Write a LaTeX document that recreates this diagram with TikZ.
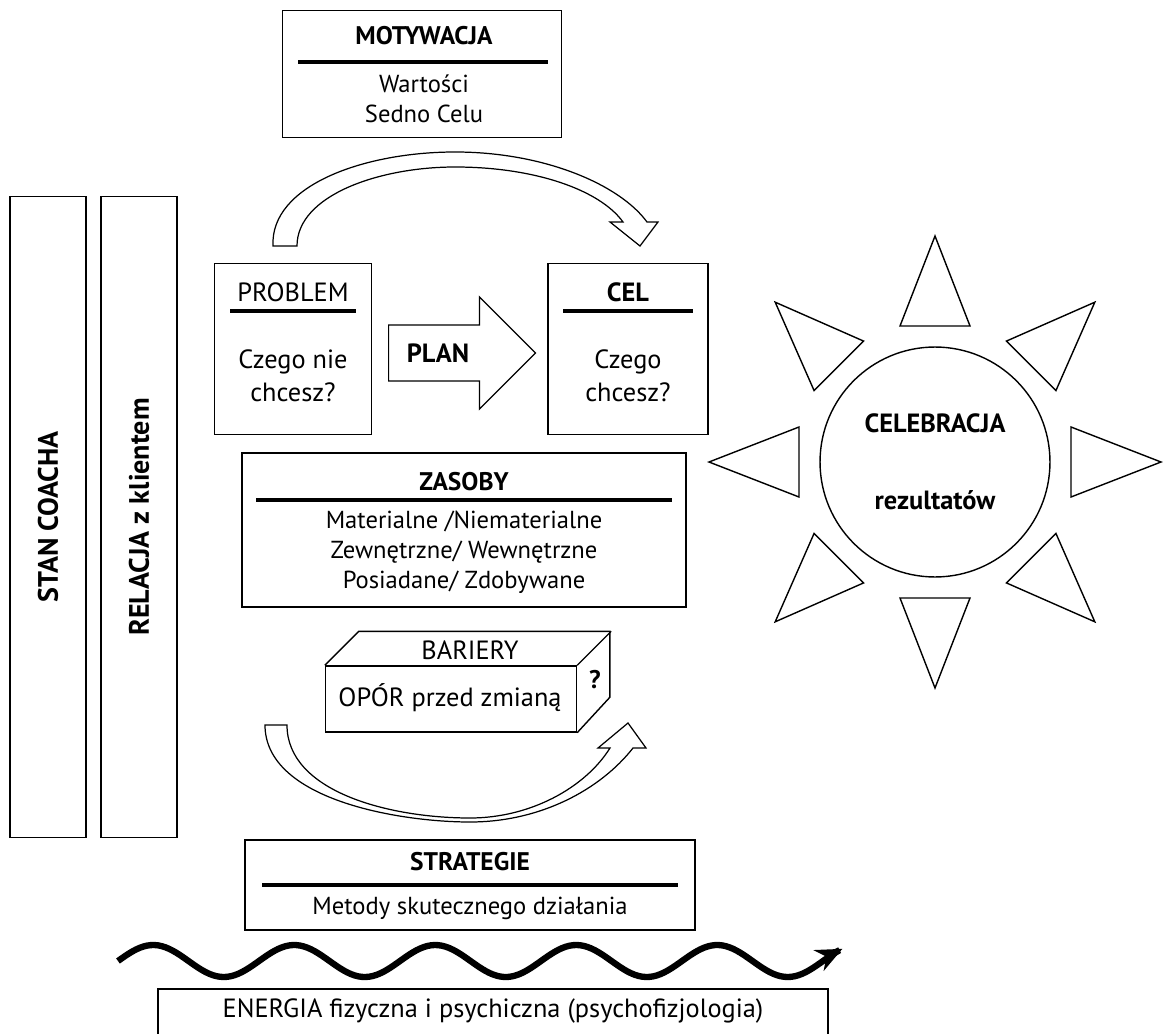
\documentclass[tikz,border=0pt]{standalone}
\usepackage{fontspec}
\setmainfont{PT Sans}
\usetikzlibrary{arrows,arrows.meta,shapes.arrows,calc}

\begin{document}
\begin{tikzpicture}[x=0.02cm,y=-0.02cm,>=stealth',
    box/.style={draw,rectangle,line width=0.8pt,inner sep=0pt},
    rule/.style={line width=2.3pt},
    fat/.style={draw,line width=0.7pt,fill=white,line join=miter},
    lab/.style={font=\fontsize{14}{17}\selectfont},
    big/.style={font=\fontsize{15}{18.7}\selectfont},
    head/.style={font=\bfseries\fontsize{14.5}{17}\selectfont}]
\useasboundingbox (0,0) rectangle (1163,1034);
\clip (0,0) rectangle (1163,1034);

% side bars
\node[box,rotate=90,minimum width=12.82cm,minimum height=1.52cm,font=\bfseries\fontsize{16}{18}\selectfont] (stan) at (48,517) {STAN COACHA};
\node[box,rotate=90,minimum width=12.82cm,minimum height=1.52cm,font=\bfseries\fontsize{16}{18}\selectfont] (relacja) at (139,517) {RELACJA z klientem};

% motywacja
\node[box,minimum width=5.58cm,minimum height=2.54cm] (motyw) at (422,74) {};
\node[head] (motywT) at (424,36) {MOTYWACJA};
\draw[rule] (298,62) -- (548,62);
\node[lab] (wart) at (424,84) {Wartości};
\node[lab] (sedno) at (424,114) {Sedno Celu};

% problem / plan / cel
\node[box,minimum width=3.14cm,minimum height=3.42cm] (problem) at (293,349) {};
\node[big] (problemT) at (293,292) {PROBLEM};
\draw[rule] (230,311) -- (356,311);
\node[big,align=center] (problemQ) at (293,376) {Czego nie\\chcesz?};

\node[box,minimum width=3.2cm,minimum height=3.42cm] (cel) at (628,349) {};
\node[font=\bfseries\fontsize{15}{18}\selectfont] (celT) at (628,292) {CEL};
\draw[rule] (563,311) -- (693,311);
\node[big,align=center] (celQ) at (628,376) {Czego\\chcesz?};

\node[fat,single arrow,single arrow head extend=0.56cm,minimum width=2.22cm,
      minimum height=2.94cm,inner xsep=0pt,inner ysep=0.55cm,text height=0pt,
      text depth=0pt,anchor=tail] (plan) at (388,353) {};
\node[font=\bfseries\fontsize{15}{18}\selectfont] (planT) at (438,353) {PLAN};

% motivation arc
\draw[fat] (273,246) .. controls (270,185) and (365,152) .. (455,152)
      .. controls (545,152) and (620,185) .. (647,222) -- (658,222) -- (640,246)
      -- (610,222) -- (623,222) .. controls (600,190) and (535,167) .. (455,167)
      .. controls (380,167) and (297,195) .. (297,246) -- cycle;

% zasoby
\node[box,minimum width=8.88cm,minimum height=3.08cm] (zasoby) at (464,530) {};
\node[head] (zasobyT) at (464,482) {ZASOBY};
\draw[rule] (256,500) -- (672,500);
\node[lab,align=center] (zasobyL) at (464,552) {Materialne /Niematerialne\\Zewnętrzne/ Wewnętrzne\\Posiadane/ Zdobywane};

% bariery
\node[box,minimum width=5.02cm,minimum height=1.32cm] (bariery) at (451,699) {};
\draw[line width=0.8pt] (bariery.north west) -- ++(34,-34) -- ++(251,0) -- ++(0,66) -- (bariery.south east);
\draw[line width=0.8pt] (bariery.north east) -- ++(34,-34);
\node[big] (barieryT) at (470,650) {BARIERY};
\node[big] (opor) at (450,698) {OPÓR przed zmianą};
\node[head] (pyt) at (595,680) {?};

% arc under barriers
\draw[fat] (265,725) .. controls (265,800) and (400,822) .. (470,822)
      .. controls (540,822) and (600,790) .. (633,748) -- (646,748) -- (628,723)
      -- (598,748) -- (610,748) .. controls (585,788) and (530,818) .. (470,818)
      .. controls (390,818) and (287,792) .. (287,725) -- cycle;

% strategie
\node[box,minimum width=9cm,minimum height=1.8cm] (strat) at (470,885) {};
\node[head] (stratT) at (470,862) {STRATEGIE};
\draw[rule] (262,885) -- (678,885);
\node[lab] (metody) at (470,908) {Metody skutecznego działania};

% energy wave
\draw[line width=3.6pt,-{Stealth[length=15pt,width=13pt]}] plot[domain=0:5.14,samples=200,smooth]
      ({118+141*\x},{961-16*sin(360*\x)});

\node[box,minimum width=13.4cm,minimum height=1.2cm] (energia) at (493,1019) {};
\node[big] (energiaT) at (493,1011) {ENERGIA fizyczna i psychiczna (psychofizjologia)};

% sun
\node[draw,circle,line width=0.8pt,minimum size=4.6cm,align=center,
      font=\bfseries\fontsize{15}{17}\selectfont] (sun) at (935,462) {CELEBRACJA\\[27pt]rezultatów};
\foreach \a in {0,45,...,315}
  \draw[line width=0.8pt,line join=miter] (sun.center) ++(\a:136) ++(\a+90:35) -- ++(\a-90:70)
      -- ($(sun.center)+(\a:226)$) -- cycle;
\end{tikzpicture}
\end{document}
